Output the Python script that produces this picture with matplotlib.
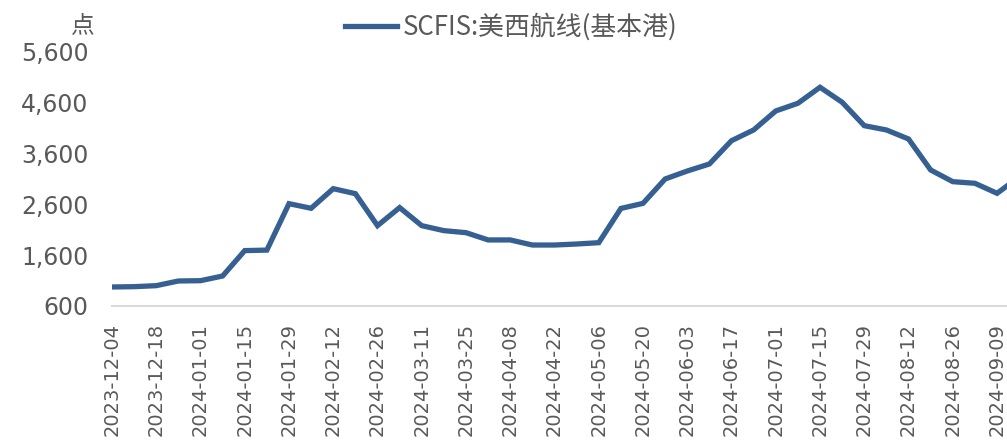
import matplotlib
matplotlib.use('Agg')
import matplotlib.pyplot as plt

plt.rcParams['font.family'] = ['Noto Sans CJK SC', 'DejaVu Sans']

# weekly SCFIS index, US West Coast (base ports)
dates = [
    '2023-12-04', '2023-12-11', '2023-12-18', '2023-12-25', '2024-01-01', '2024-01-08',
    '2024-01-15', '2024-01-22', '2024-01-29', '2024-02-05', '2024-02-12', '2024-02-19',
    '2024-02-26', '2024-03-04', '2024-03-11', '2024-03-18', '2024-03-25', '2024-04-01',
    '2024-04-08', '2024-04-15', '2024-04-22', '2024-04-29', '2024-05-06', '2024-05-13',
    '2024-05-20', '2024-05-27', '2024-06-03', '2024-06-10', '2024-06-17', '2024-06-24',
    '2024-07-01', '2024-07-08', '2024-07-15', '2024-07-22', '2024-07-29', '2024-08-05',
    '2024-08-12', '2024-08-19', '2024-08-26', '2024-09-02', '2024-09-09', '2024-09-16',
]
scfis_usw = [
    974, 980, 1000, 1092, 1098, 1190,
    1690, 1700, 2614, 2523, 2909, 2811,
    2181, 2537, 2181, 2083, 2043, 1900,
    1900, 1800, 1800, 1820, 1846, 2520,
    2620, 3100, 3257, 3395, 3854, 4065,
    4439, 4590, 4905, 4610, 4149, 4065,
    3887, 3277, 3047, 3015, 2818, 3140,
]
y_ticks = [600, 1600, 2600, 3600, 4600, 5600]
series_name = 'SCFIS:美西航线(基本港)'
unit = '点'

line_color = '#366092'
text_color = '#595959'

fig = plt.figure(figsize=(10.07, 4.48), dpi=100)
ax = fig.add_axes([0.1112, 0.317, 0.8888, 0.567])

x = list(range(len(dates)))
ax.plot(x, scfis_usw, color=line_color, linewidth=3.8, solid_joinstyle='miter',
        label=series_name)

ax.set_xlim(0, 40.45)
ax.set_ylim(600, 5600)
ax.set_yticks(y_ticks)
ax.set_yticklabels([f'{v:,}' for v in y_ticks], family='DejaVu Sans',
                   fontsize=17, color=text_color)
ax.set_xticks(x[::2])
ax.set_xticklabels(dates[::2], rotation=90, family='DejaVu Sans',
                   fontsize=14, color=text_color)
ax.tick_params(axis='both', length=0)
ax.tick_params(axis='x', pad=12)
ax.tick_params(axis='y', pad=17)

for side in ['top', 'right', 'left']:
    ax.spines[side].set_visible(False)
ax.spines['bottom'].set_color('#d9d9d9')
ax.spines['bottom'].set_linewidth(1.5)

fig.text(0.094, 0.944, unit, ha='right', va='center', fontsize=17, color=text_color)

leg = ax.legend(loc='center', bbox_to_anchor=(0.508, 0.94),
                bbox_transform=fig.transFigure, frameon=False,
                prop={'size': 18.6}, handlelength=2.0, handletextpad=0.25)
for t in leg.get_texts():
    t.set_color(text_color)

fig.savefig('out.png', dpi=100)
